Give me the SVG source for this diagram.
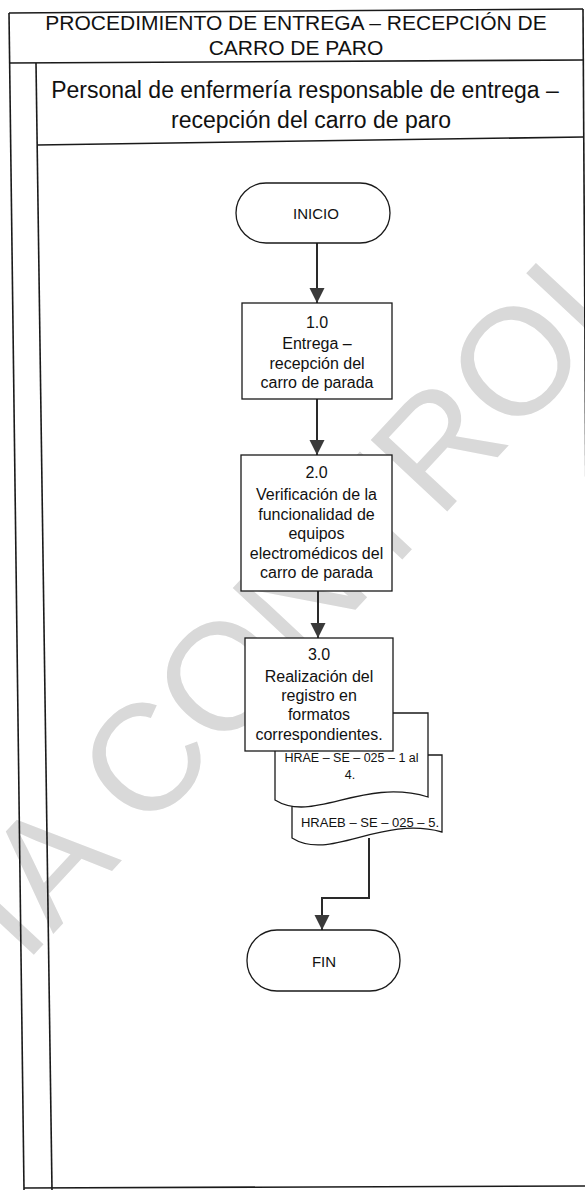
<svg xmlns="http://www.w3.org/2000/svg" width="585" height="1191" viewBox="0 0 585 1191">
<style>
.frame{stroke:#1a1a1a;stroke-width:1.6;fill:none}
.box{fill:#fff;stroke:#1a1a1a;stroke-width:1.3}
.conn{stroke:#2a2a2a;stroke-width:2;fill:none}
.t{font-family:"Liberation Sans",Arial,sans-serif;fill:#111;text-anchor:middle}
.b{font-size:16px}
.d{font-size:12.5px}
.wm{font-family:"Liberation Sans",Arial,sans-serif;font-size:152px;fill:#d9d9d9}
</style>
<defs>
<marker id="arr" markerUnits="userSpaceOnUse" markerWidth="16" markerHeight="16" refX="15" refY="7.5" orient="auto">
<path d="M0,0 L15,7.5 L0,15 Z" fill="#3a3a3a"/>
</marker>
</defs>
<rect width="585" height="1191" fill="#fff"/>
<g id="watermark">
<text class="wm" transform="translate(-200.5,1206) rotate(-47)">COPIA CONTROLADA</text>
</g>
<g id="frame">
<path class="frame" d="M9,13 L583,9"/>
<path class="frame" d="M9,13 L24,1190"/>
<path class="frame" d="M583,9 L590,1188"/>
<path class="frame" d="M9,63 L583,60"/>
<path class="frame" d="M36,63 L52,1190"/>
<path class="frame" d="M37,145 L583,137"/>
<path class="frame" d="M24,1188 L585,1186"/>
</g>
<g id="title">
<text class="t" x="296" y="30" font-size="21">PROCEDIMIENTO DE ENTREGA – RECEPCIÓN DE</text>
<text class="t" x="296" y="55" font-size="21">CARRO DE PARO</text>
</g>
<g id="lane">
<text class="t" x="305" y="98" font-size="23">Personal de enfermería  responsable de entrega –</text>
<text class="t" x="311" y="128" font-size="23">recepción del carro de paro</text>
</g>
<g id="connectors">
<path class="conn" d="M317,243 V303" marker-end="url(#arr)"/>
<path class="conn" d="M317,399 V455" marker-end="url(#arr)"/>
<path class="conn" d="M318,591 V638" marker-end="url(#arr)"/>
<path class="conn" d="M369,838 V898 H322 V930" marker-end="url(#arr)"/>
</g>
<g id="inicio">
<rect class="box" x="236" y="183" width="154" height="60" rx="30"/>
<text class="t" x="316" y="219" font-size="15">INICIO</text>
</g>
<g id="step1">
<rect class="box" x="242" y="303" width="150" height="96"/>
<text class="t b" x="317" y="328">1.0</text>
<text class="t b" x="317" y="349">Entrega –</text>
<text class="t b" x="317" y="369">recepción del</text>
<text class="t b" x="317" y="388">carro de parada</text>
</g>
<g id="step2">
<rect class="box" x="241" y="455" width="151" height="136"/>
<text class="t b" x="316.5" y="478">2.0</text>
<text class="t b" x="316.5" y="500">Verificación de la</text>
<text class="t b" x="316.5" y="520">funcionalidad de</text>
<text class="t b" x="316.5" y="539">equipos</text>
<text class="t b" x="316.5" y="559">electromédicos del</text>
<text class="t b" x="316.5" y="578">carro de parada</text>
</g>
<g id="doc2">
<path class="box" d="M292,755 H442 V832 C380,815 330,862 292,838 Z"/>
<text class="t" x="370" y="827" font-size="13">HRAEB – SE – 025 – 5.</text>
</g>
<g id="doc1">
<path class="box" d="M275,713 H428 V797 C363,777 313,824 275,800 Z"/>
<text class="t d" x="351.5" y="762">HRAE – SE – 025 – 1 al</text>
<text class="t d" x="350" y="779">4.</text>
</g>
<g id="step3">
<rect class="box" x="245" y="638" width="148" height="113"/>
<text class="t b" x="319" y="660">3.0</text>
<text class="t b" x="319" y="682">Realización del</text>
<text class="t b" x="319" y="701">registro en</text>
<text class="t b" x="319" y="720">formatos</text>
<text class="t b" x="319" y="740">correspondientes.</text>
</g>
<g id="fin">
<rect class="box" x="247" y="930" width="153" height="61" rx="30"/>
<text class="t" x="324" y="967" font-size="15">FIN</text>
</g>
</svg>
